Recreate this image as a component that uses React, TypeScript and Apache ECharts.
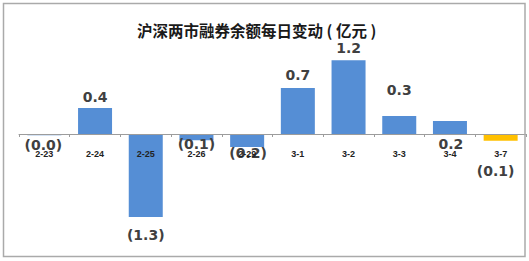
import React, { useEffect, useRef } from "react";
import * as echarts from "echarts";

const titleText = "沪深两市融券余额每日变动 ( 亿元 )";
const categories = ["2-23", "2-24", "2-25", "2-26", "2-29", "3-1", "3-2", "3-3", "3-4", "3-7"];
const values = [-0.02, 0.42, -1.34, -0.1, -0.21, 0.74, 1.19, 0.29, 0.21, -0.11];
const barColors = ["#558ED5", "#558ED5", "#558ED5", "#558ED5", "#558ED5", "#558ED5", "#558ED5", "#558ED5", "#558ED5", "#FFC000"];
// label placement tweaks (position, distance, x offset) per bar
const labelPositions = ["bottom", "top", "bottom", "bottom", "bottom", "top", "top", "top", "bottom", "bottom"];
const labelDistances = [3, 3.5, 11, -3, -1.5, 6.5, 5, 19.5, 2.5, 23];
const labelOffsetsX = [-1, 0, 0, 0, 1, 0, 0, 0, 1, -5];

const fmt = (v: number) => (v < 0 ? `(${Math.abs(v).toFixed(1)})` : v.toFixed(1));

export default function App() {
  const ref = useRef<HTMLDivElement>(null);
  useEffect(() => {
    document.body.style.margin = "0";
    const chart = echarts.init(ref.current!, undefined, { renderer: "svg" });
    chart.setOption({
      animation: false,
      backgroundColor: "#ffffff",
      title: {
        text: titleText,
        left: 132,
        top: 17,
        textStyle: {
          fontFamily: "Noto Sans CJK SC",
          fontWeight: "bold",
          fontSize: 15.5,
          color: "#1a1a1a",
        },
      },
      graphic: [
        {
          type: "rect",
          shape: { x: 3.5, y: 3.5, width: 521.5, height: 253 },
          style: { fill: "none", stroke: "#aaaaaa", lineWidth: 1.5 },
          z: 100,
          silent: true,
        },
      ],
      grid: { left: 19, right: 3, top: 41, bottom: 34 },
      xAxis: {
        type: "category",
        data: categories,
        offset: -93,
        axisLine: { show: true, onZero: false, lineStyle: { color: "#9c9c9c", width: 1 } },
        axisTick: { show: true, length: 3, lineStyle: { color: "#9c9c9c" } },
        axisLabel: {
          margin: 15,
          fontFamily: "Liberation Sans",
          fontWeight: "bold",
          fontSize: 9,
          color: "#222222",
        },
        z: 5,
      },
      yAxis: {
        type: "value",
        min: -1.5,
        max: 1.5,
        show: false,
        splitLine: { show: false },
      },
      series: [
        {
          type: "bar",
          barWidth: 34,
          data: values.map((v, i) => ({
            value: v,
            itemStyle: { color: barColors[i] },
            label: {
              show: true,
              position: labelPositions[i],
              distance: labelDistances[i],
              offset: [labelOffsetsX[i], 0],
              formatter: () => fmt(v),
              fontFamily: "DejaVu Sans",
              fontWeight: "bold",
              fontSize: 14,
              color: "#404040",
            },
          })),
        },
      ],
    });
    return () => chart.dispose();
  }, []);
  return <div ref={ref} style={{ width: 529, height: 261 }} />;
}
